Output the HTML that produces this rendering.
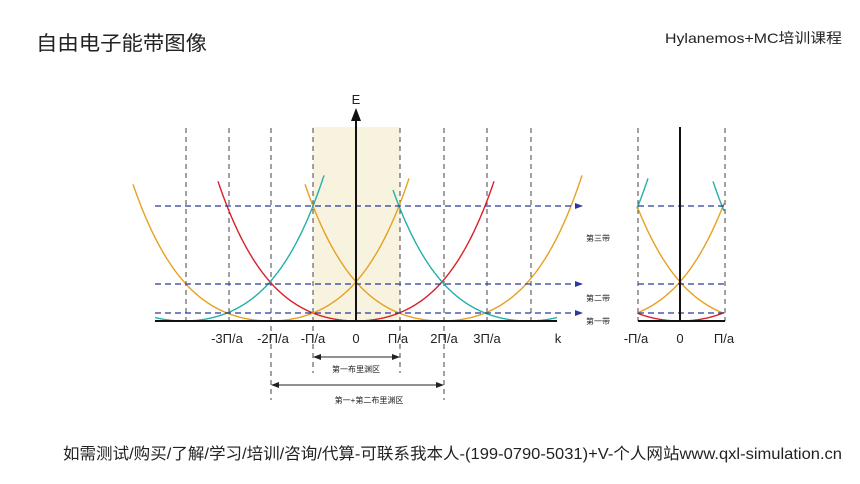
<!DOCTYPE html>
<html><head><meta charset="utf-8"><style>
html,body{margin:0;padding:0;background:#fff;}
svg{display:block;}
text{font-family:"Liberation Sans","Noto Sans CJK SC",sans-serif;}
</style></head><body>
<svg id="s" width="860" height="484" viewBox="0 0 860 484" xmlns="http://www.w3.org/2000/svg">
<defs>
<marker id="ab" markerWidth="8" markerHeight="8" refX="7" refY="4" orient="auto" markerUnits="userSpaceOnUse"><path d="M0,1 L8,4 L0,7 Z" fill="#2a3a9a"/></marker>
<marker id="ak" markerWidth="8" markerHeight="8" refX="7" refY="4" orient="auto" markerUnits="userSpaceOnUse"><path d="M0,1 L8,4 L0,7 Z" fill="#222"/></marker>
<marker id="ak2" markerWidth="8" markerHeight="8" refX="1" refY="4" orient="auto" markerUnits="userSpaceOnUse"><path d="M8,1 L0,4 L8,7 Z" fill="#222"/></marker>
<clipPath id="c1"><rect x="150" y="160" width="440" height="170"/></clipPath>
<clipPath id="c2"><rect x="638" y="160" width="87" height="170"/></clipPath>
</defs>
<text x="36" y="50" font-size="20" fill="#222" textLength="171" lengthAdjust="spacingAndGlyphs">自由电子能带图像</text>
<text x="665" y="43" font-size="14" fill="#222" textLength="177" lengthAdjust="spacingAndGlyphs">Hylanemos+MC培训课程</text>
<text x="63" y="459" font-size="16" fill="#222" textLength="779" lengthAdjust="spacingAndGlyphs">如需测试/购买/了解/学习/培训/咨询/代算-可联系我本人-(199-0790-5031)+V-个人网站www.qxl-simulation.cn</text>

<rect x="313" y="127" width="87" height="194" fill="#f7f3df"/>
<g stroke="#444" stroke-width="1" stroke-dasharray="5,4">
<line x1="186" y1="128" x2="186" y2="321"/>
<line x1="229" y1="128" x2="229" y2="321"/>
<line x1="271" y1="128" x2="271" y2="400"/>
<line x1="313" y1="128" x2="313" y2="373"/>
<line x1="400" y1="128" x2="400" y2="373"/>
<line x1="444" y1="128" x2="444" y2="400"/>
<line x1="487" y1="128" x2="487" y2="321"/>
<line x1="531" y1="128" x2="531" y2="321"/>
<line x1="638" y1="128" x2="638" y2="321"/>
<line x1="725" y1="128" x2="725" y2="321"/>
</g>
<g id="curves"></g>
<g stroke="#2a3a9a" stroke-width="1.2" stroke-dasharray="6,4" fill="none">
<line x1="155" y1="206" x2="582" y2="206" marker-end="url(#ab)"/>
<line x1="155" y1="284" x2="582" y2="284" marker-end="url(#ab)"/>
<line x1="155" y1="313" x2="582" y2="313" marker-end="url(#ab)"/>
<line x1="638" y1="206" x2="725" y2="206"/>
<line x1="638" y1="284" x2="725" y2="284"/>
<line x1="638" y1="313" x2="725" y2="313"/>
</g>
<line x1="155" y1="321" x2="557" y2="321" stroke="#111" stroke-width="2"/>
<line x1="356" y1="321" x2="356" y2="116" stroke="#111" stroke-width="2"/>
<path d="M351,121 L356,108 L361,121 Z" fill="#111"/>
<text x="356" y="104" font-size="13" text-anchor="middle" fill="#222">E</text>
<line x1="638" y1="321" x2="725" y2="321" stroke="#111" stroke-width="2"/>
<line x1="680" y1="321" x2="680" y2="127" stroke="#111" stroke-width="2"/>
<g font-size="13" fill="#222" text-anchor="middle">
<text x="227" y="343">-3Π/a</text><text x="273" y="343">-2Π/a</text><text x="313" y="343">-Π/a</text>
<text x="356" y="343">0</text><text x="398" y="343">Π/a</text><text x="444" y="343">2Π/a</text>
<text x="487" y="343">3Π/a</text><text x="558" y="343">k</text>
<text x="636" y="343">-Π/a</text><text x="680" y="343">0</text><text x="724" y="343">Π/a</text>
</g>
<g font-size="8" fill="#222">
<text x="586" y="241">第三带</text><text x="586" y="301">第二带</text><text x="586" y="324">第一带</text>
</g>
<line x1="314" y1="357" x2="399" y2="357" stroke="#222" marker-end="url(#ak)" marker-start="url(#ak2)"/>
<text x="356" y="372" font-size="8" text-anchor="middle" fill="#222">第一布里渊区</text>
<line x1="272" y1="385" x2="443" y2="385" stroke="#222" marker-end="url(#ak)" marker-start="url(#ak2)"/>
<text x="369" y="403" font-size="8" text-anchor="middle" fill="#222">第一+第二布里渊区</text>
</svg>
<script>
function E(k){k=Math.abs(k);return 0.004*k*k+1.75e-7*k*k*k*k;}
function path(c,x0,x1,dx){var d="";for(var x=x0;x<=x1+0.01;x+=0.5){var y=321-E(x-c)*(1);d+=(d?"L":"M")+(x+dx).toFixed(1)+","+y.toFixed(1);}return d;}
var g=document.getElementById("curves"),ns="http://www.w3.org/2000/svg";
function add(d,col,clip){var p=document.createElementNS(ns,"path");p.setAttribute("d",d);p.setAttribute("stroke",col);p.setAttribute("stroke-width","1.4");p.setAttribute("fill","none");if(clip)p.setAttribute("clip-path","url(#"+clip+")");g.appendChild(p);}
var R="#d8202a",O="#e8a020",T="#23b0a8";
add(path(356,218,494,0),R);
add(path(270,133,409,0),O);
add(path(442,305,582,0),O);
add(path(184,155,324,0),T);
add(path(528,393,557,0),T);
// reduced zone
add(path(356,313,400,324),R);
add(path(270,313,400,324),O);
add(path(442,313,400+0,324),O);
add(path(185,313,324,324),T);
add(path(527,389,400,324),T);
</script>
</body></html>
